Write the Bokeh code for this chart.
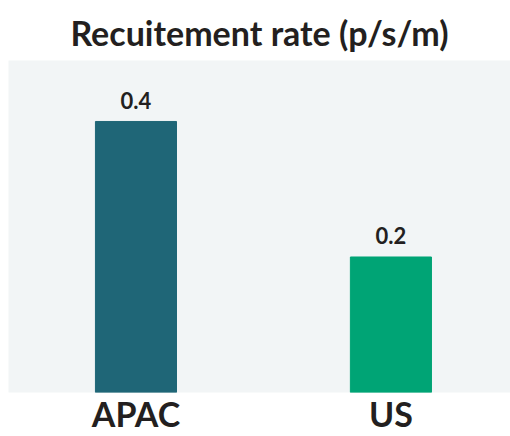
from bokeh.plotting import figure
from bokeh.models import ColumnDataSource, FixedTicker, Range1d
from bokeh.core.properties import value
from bokeh.embed import file_html
from bokeh.resources import INLINE

categories = ["APAC", "US"]
rates = [0.4, 0.2]
bar_colors = ["#1f6677", "#00a475"]
rate_labels = ["0.4", "0.2"]
title_text = "Recuitement rate (p/s/m)"

xs = list(range(len(categories)))
src = ColumnDataSource(dict(x=xs, top=rates, color=bar_colors, label=rate_labels))

p = figure(width=510, height=436, output_backend="svg", toolbar_location=None,
           x_range=Range1d(-0.5, 1.469), y_range=Range1d(0, 0.49),
           min_border_left=8, min_border_right=0, min_border_top=60, min_border_bottom=43)
p.title.text = title_text
p.title.align = "center"
p.title.text_font = "Lato"
p.title.text_font_size = "34px"
p.title.text_font_style = "bold"
p.title.text_color = "#231f20"
p.title.standoff = 16

p.vbar(x="x", top="top", bottom=0, width=0.318, color="color", source=src)
p.text(x="x", y="top", text="label", source=src, y_offset=-21,
       text_align="center", text_baseline="alphabetic",
       text_font=value("Lato"), text_font_style="bold", text_font_size="22px",
       text_color="#231f20")

p.background_fill_color = "#f2f5f6"
p.border_fill_color = "white"
p.outline_line_color = None
p.grid.visible = False
p.yaxis.visible = False
p.xaxis.ticker = FixedTicker(ticks=xs)
p.xaxis.major_label_overrides = {i: c for i, c in zip(xs, categories)}
p.xaxis.axis_line_color = None
p.xaxis.major_tick_line_color = None
p.xaxis.minor_tick_line_color = None
p.xaxis.major_tick_out = 0
p.xaxis.major_tick_in = 0
p.xaxis.major_label_text_font = "Lato"
p.xaxis.major_label_text_font_style = "bold"
p.xaxis.major_label_text_font_size = "34px"
p.xaxis.major_label_text_color = "#231f20"
p.xaxis.major_label_standoff = 0

open("out.html", "w").write(file_html(p, INLINE))
